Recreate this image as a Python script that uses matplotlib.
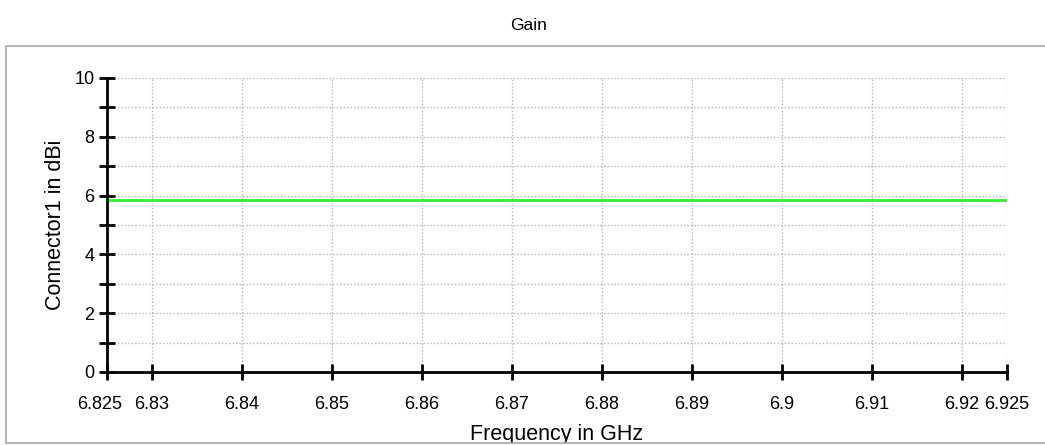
import matplotlib
matplotlib.use('Agg')
import matplotlib.pyplot as plt
from matplotlib import font_manager
from matplotlib.patches import Rectangle
from matplotlib.transforms import Bbox, TransformedBbox, ScaledTranslation

# data
freq = [6.825, 6.85, 6.875, 6.9, 6.925]
gain = [5.85, 5.85, 5.85, 5.85, 5.85]

xticks = [6.825, 6.83, 6.84, 6.85, 6.86, 6.87, 6.88, 6.89, 6.9, 6.91, 6.92, 6.925]
xtick_labels = ['6.825', '6.83', '6.84', '6.85', '6.86', '6.87', '6.88', '6.89',
                '6.9', '6.91', '6.92', '6.925']
yticks = [0, 2, 4, 6, 8, 10]
yminor = [1, 3, 5, 7, 9]

W, H = 1045, 445
fig = plt.figure(figsize=(W / 100, H / 100), dpi=100)
plt.rcParams['font.family'] = ['Liberation Sans']

# tick labels use a narrow font in the reference
names = {f.name for f in font_manager.fontManager.ttflist}
if 'Liberation Sans Narrow' in names:
    tick_font, tick_size = 'Liberation Sans Narrow', 15
else:
    tick_font, tick_size = 'Liberation Sans', 13

# gray panel frame
fig.patches.append(Rectangle((6 / W, 2 / H), (W - 5) / W, 397 / H, transform=fig.transFigure,
                             fill=False, edgecolor='#a8a8a8', linewidth=1.2))
fig.text(529 / W, 1 - 25 / H, 'Gain', ha='center', va='center', fontsize=12.5)

ax = fig.add_axes([107 / W, 1 - 372 / H, 900 / W, 294 / H])
ax.plot(freq, gain, color='#33ee33', linewidth=2)

ax.set_xlim(6.825, 6.925)
ax.set_ylim(0, 10)
ax.set_xticks(xticks)
ax.set_xticklabels(xtick_labels)
ax.set_yticks(yticks)
ax.set_yticks(yminor, minor=True)

for s in ['top', 'right']:
    ax.spines[s].set_visible(False)
for s in ['left', 'bottom']:
    ax.spines[s].set_linewidth(2)

ax.tick_params(which='both', direction='inout', length=12, width=2, color='black')
ax.tick_params(axis='x', labelsize=tick_size, pad=11)
ax.tick_params(axis='y', labelsize=tick_size, pad=3)
for lab in ax.get_xticklabels() + ax.get_yticklabels():
    lab.set_fontfamily(tick_font)
ax.grid(True, which='both', color='#b5b5b5', linestyle=(0, (1, 1.5)), linewidth=1)

# first label sits a bit left of its tick, as in the reference
first = ax.get_xticklabels()[0]
first.set_transform(first.get_transform() + ScaledTranslation(-0.07, 0, fig.dpi_scale_trans))

ax.set_xlabel('Frequency in GHz', fontsize=15.5, labelpad=8)
ax.set_ylabel('Connector1 in dBi', fontsize=15.5, labelpad=6)

# x label is cut off by the panel frame
ax.xaxis.label.set_clip_box(TransformedBbox(Bbox([[0, 2 / H], [1, 1]]), fig.transFigure))
ax.xaxis.label.set_clip_on(True)

fig.savefig('out.png', dpi=100)
